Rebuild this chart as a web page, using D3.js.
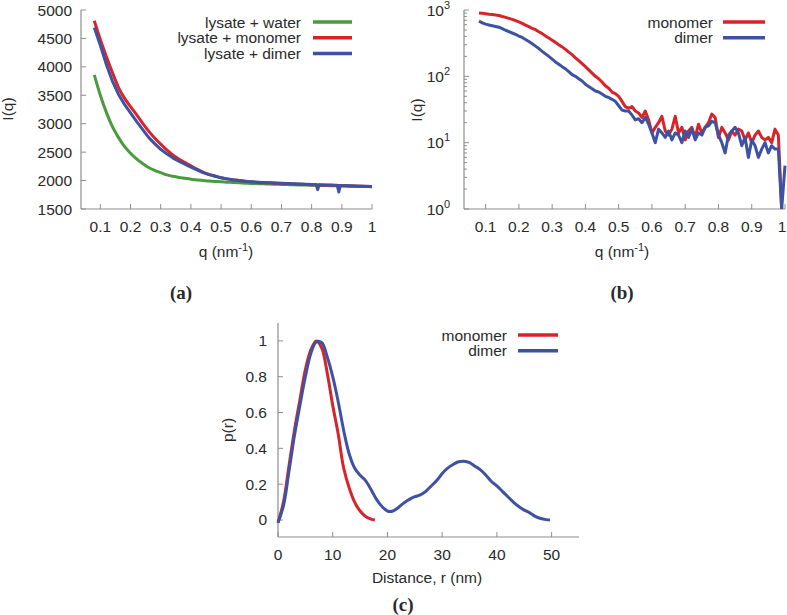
<!DOCTYPE html>
<html><head><meta charset="utf-8">
<script src="https://cdn.jsdelivr.net/npm/d3@7"></script>
<style>
body{margin:0;background:#fff;}
svg text{font-family:"Liberation Sans",Arial,Helvetica,sans-serif;fill:#2a2a2a;}
</style>
</head><body>
<svg id="chart" width="787" height="615"></svg>
<script>
// ---------- Panel (a) data ----------
const qA = [0.08,0.10,0.12,0.14,0.16,0.18,0.20,0.22,0.24,0.26,0.28,0.30,0.32,0.34,0.36,0.38,0.40,0.42,0.44,0.46,0.48,0.50,0.52,0.54,0.56,0.58,0.60,0.62,0.64,0.66,0.68,0.70,0.72,0.74,0.76,0.78,0.80,0.815,0.82,0.825,0.84,0.86,0.88,0.885,0.89,0.895,0.90,0.92,0.94,0.96,0.98,1.00];
const waterA = [3860,3500,3200,2950,2760,2600,2480,2380,2300,2230,2180,2140,2100,2075,2055,2040,2025,2012,2000,1992,1985,1978,1972,1966,1960,1955,1950,1946,1942,1938,1935,1932,1929,1926,1923,1920,1918,1916,1915,1915,1913,1911,1909,1908,1908,1907,1906,1903,1900,1898,1895,1893];
const monomerA = [4810,4480,4180,3900,3640,3450,3300,3160,3010,2870,2750,2640,2540,2450,2380,2320,2260,2200,2150,2110,2080,2050,2030,2015,2000,1990,1978,1970,1962,1963,1952,1948,1944,1940,1936,1932,1928,1925,1924,1923,1920,1917,1913,1912,1912,1911,1910,1906,1903,1900,1897,1893];
const dimerA = [4690,4380,4040,3750,3520,3340,3190,3040,2900,2760,2650,2550,2470,2400,2340,2290,2235,2190,2140,2105,2075,2050,2030,2012,2000,1990,1980,1972,1966,1962,1958,1952,1948,1944,1940,1936,1932,1928,1840,1926,1924,1921,1918,1916,1800,1914,1912,1908,1905,1902,1899,1895];
const yTicksA = [1500,2000,2500,3000,3500,4000,4500,5000];
const xTicksQ = [0.1,0.2,0.3,0.4,0.5,0.6,0.7,0.8,0.9,1];
const legendA = ["lysate + water","lysate + monomer","lysate + dimer"];

// ---------- Panel (b) data ----------
const qB = [0.08,0.09,0.10,0.11,0.12,0.13,0.14,0.15,0.16,0.17,0.18,0.19,0.20,0.21,0.22,0.23,0.24,0.25,0.26,0.27,0.28,0.29,0.30,0.31,0.32,0.33,0.34,0.35,0.36,0.37,0.38,0.39,0.40,0.41,0.42,0.43,0.44,0.45,0.46,0.47,0.48,0.49,0.50,0.51,0.52,0.53,0.54,0.55,0.56,0.57,0.58,0.59,0.60,0.61,0.62,0.63,0.64,0.65,0.66,0.67,0.68,0.69,0.70,0.71,0.72,0.73,0.74,0.75,0.76,0.77,0.78,0.79,0.80,0.81,0.82,0.83,0.84,0.85,0.86,0.87,0.88,0.89,0.90,0.91,0.92,0.93,0.94,0.95,0.96,0.97,0.98,0.99,1.00];
const monomerB = [900,890,878,862,852,840,825,798,775,748,722,692,662,630,592,562,530,505,470,440,405,378,350,325,300,278,255,232,212,190,172,155,140,125,112,100,92,82,72,66,58,55,50,42,35,33,35,30,28,24,30,22,14,17,20,25,15,13,16,25,14,17,11,15,17,12,19,14,17,20,27,24,12,17,14,11,15,13,16,15,11,14,10,13,15,12,11,12,10,16,13,1,null];
const dimerB = [680,640,612,595,580,565,550,522,495,472,450,430,405,385,360,335,310,285,262,238,218,200,182,165,152,140,130,118,106,100,92,85,76,70,65,60,58,54,50,48,45,42,36,31,30,30,26,22,23,20,24,19,14,10,16,14,12,15,11,14,13,10,15,12,16,11,14,13,17,18,21,20,13,10,7,13,15,17,14,9,12,6,11,9,6,8,10,7,9,8,8,1,4.5];
const yTicksB = [1,10,100,1000];
const legendB = ["monomer","dimer"];

// ---------- Panel (c) data ----------
const rMono = [0,1,2,3,4,5,6,7,8,9,10,11,12,13,14,15,16,17,17.7];
const pMono = [-0.015,0.10,0.30,0.50,0.67,0.84,0.95,1.00,0.96,0.82,0.64,0.48,0.29,0.18,0.10,0.05,0.02,0.005,0.0];
const rDimer = [0,1,2,3,4,5,6,7,8,9,10,11,12,13,14,15,16,17,18,19,20,21,22,23,24,25,26,27,28,29,30,31,32,33,34,35,36,37,38,39,40,41,42,43,44,45,46,47,48,49,49.7];
const pDimer = [-0.015,0.08,0.27,0.47,0.64,0.80,0.93,0.995,0.99,0.91,0.80,0.66,0.50,0.37,0.29,0.25,0.22,0.17,0.115,0.075,0.05,0.05,0.07,0.095,0.115,0.13,0.14,0.16,0.19,0.22,0.26,0.29,0.31,0.325,0.328,0.32,0.30,0.28,0.25,0.215,0.19,0.16,0.13,0.10,0.075,0.055,0.04,0.02,0.008,0.002,0.0];
const yTicksC = [0,0.2,0.4,0.6,0.8,1];
const xTicksC = [0,10,20,30,40,50];
const legendC = ["monomer","dimer"];

const COL = {green:"#4a9a3e", red:"#d9232b", blue:"#3d52a3"};
const AXIS = "#8e8e8e";
const FS = 15.5;

const svg = d3.select("#chart");

function axes(g, x, y, xTicks, yTicks, yFmt, xFmt, opts) {
  const [x0, x1] = x.range(), [y0, y1] = y.range();
  g.append("line").attr("x1", x0).attr("x2", x0).attr("y1", y0).attr("y2", y1)
    .attr("stroke", AXIS).attr("stroke-width", 1.2);
  g.append("line").attr("x1", x0).attr("x2", x1).attr("y1", y0).attr("y2", y0)
    .attr("stroke", AXIS).attr("stroke-width", 1.2);
  xTicks.forEach(t => {
    const px = x(t);
    g.append("line").attr("x1", px).attr("x2", px).attr("y1", y0).attr("y2", y0 - 5)
      .attr("stroke", AXIS).attr("stroke-width", 1);
    g.append("text").attr("x", Math.min(px, 782)).attr("y", y0 + opts.xLabOff).attr("text-anchor", "middle")
      .attr("font-size", FS).text(xFmt(t));
  });
  yTicks.forEach(t => {
    const py = y(t);
    g.append("line").attr("x1", x0).attr("x2", x0 + 5).attr("y1", py).attr("y2", py)
      .attr("stroke", AXIS).attr("stroke-width", 1);
    yFmt(g, x0 - opts.yLabOff, py, t);
  });
}

function plainY(fmt) {
  return (g, xx, yy, t) => g.append("text").attr("x", xx).attr("y", yy + 5.5)
    .attr("text-anchor", "end").attr("font-size", FS).text(fmt(t));
}

function qTitle(g, cx, yy) {
  const t = g.append("text").attr("x", cx).attr("y", yy).attr("text-anchor", "middle").attr("font-size", FS);
  t.append("tspan").text("q (nm");
  t.append("tspan").attr("dy", -6).attr("font-size", 11).text("-1");
  t.append("tspan").attr("dy", 6).text(")");
}

function yTitle(g, cx, cy, txt) {
  g.append("text").attr("transform", `translate(${cx},${cy}) rotate(-90)`)
    .attr("text-anchor", "middle").attr("font-size", FS).text(txt);
}

function panelLabel(txt, cx, yy) {
  svg.append("text").attr("x", cx).attr("y", yy).attr("text-anchor", "middle")
    .style("font-family", '"Liberation Serif","Times New Roman",serif')
    .attr("font-weight", "bold").attr("font-size", 19).text(txt);
}

function legend(g, names, colors, xr, x1, x2, y0, dy) {
  names.forEach((n, i) => {
    const yy = y0 + i * dy;
    g.append("text").attr("x", xr).attr("y", yy + 5.5).attr("text-anchor", "end")
      .attr("font-size", FS).text(n);
    g.append("line").attr("x1", x1).attr("x2", x2).attr("y1", yy).attr("y2", yy)
      .attr("stroke", colors[i]).attr("stroke-width", 3.5);
  });
}

function drawLine(g, xs, ys, x, y, color, curve, clipId) {
  const pts = xs.map((v, i) => [v, ys[i]]);
  const line = d3.line().defined(d => d[1] !== null).x(d => x(d[0])).y(d => y(d[1]));
  if (curve) line.curve(curve);
  g.append("path").datum(pts).attr("d", line).attr("fill", "none")
    .attr("stroke", color).attr("stroke-width", 3).attr("stroke-linejoin", "round")
    .attr("clip-path", clipId ? `url(#${clipId})` : null);
}

const defs = svg.append("defs");
function clip(id, x, y) {
  const [x0, x1] = x.range(), [y0, y1] = y.range();
  defs.append("clipPath").attr("id", id).append("rect")
    .attr("x", x0).attr("y", y1 - 3).attr("width", x1 - x0 + 3).attr("height", y0 - y1 + 3);
}

// ---------- Panel (a) ----------
{
  const g = svg.append("g");
  const x = d3.scaleLinear().domain([0.036, 1]).range([81, 372]);
  const y = d3.scaleLinear().domain([1500, 5000]).range([209, 10]);
  clip("clipA", x, y);
  axes(g, x, y, xTicksQ, yTicksA, plainY(d => d), d => d3.format("")(d), {xLabOff: 23, yLabOff: 9});
  drawLine(g, qA, waterA, x, y, COL.green, d3.curveMonotoneX, "clipA");
  drawLine(g, qA, monomerA, x, y, COL.red, d3.curveMonotoneX, "clipA");
  drawLine(g, qA, dimerA, x, y, COL.blue, d3.curveLinear, "clipA");
  yTitle(g, 13, 109, "I(q)");
  qTitle(g, 226, 257);
  legend(g, legendA, [COL.green, COL.red, COL.blue], 301, 313, 352, 22, 15.7);
  panelLabel("(a)", 181, 299);
}

// ---------- Panel (b) ----------
{
  const g = svg.append("g");
  const x = d3.scaleLinear().domain([0.035, 1]).range([464, 785]);
  const y = d3.scaleLog().domain([1, 1000]).range([209, 10]);
  clip("clipB", x, y);
  [1, 10, 100].forEach(dec => {
    for (let k = 2; k <= 9; k++) {
      const py = y(dec * k);
      g.append("line").attr("x1", 464).attr("x2", 467).attr("y1", py).attr("y2", py)
        .attr("stroke", AXIS).attr("stroke-width", 1);
    }
  });
  const yFmtB = (gg, xx, yy, t) => {
    const tx = gg.append("text").attr("x", xx).attr("y", yy + 5.5).attr("text-anchor", "end").attr("font-size", FS);
    tx.append("tspan").text("10");
    tx.append("tspan").attr("dy", -7).attr("font-size", 11).text(String(Math.round(Math.log10(t))));
  };
  axes(g, x, y, xTicksQ, yTicksB, yFmtB, d => d3.format("")(d), {xLabOff: 23, yLabOff: 14});
  drawLine(g, qB, monomerB, x, y, COL.red, d3.curveLinear, "clipB");
  drawLine(g, qB, dimerB, x, y, COL.blue, d3.curveLinear, "clipB");
  yTitle(g, 422, 110, "I(q)");
  qTitle(g, 622, 257);
  legend(g, legendB, [COL.red, COL.blue], 713, 723, 765, 22, 15.7);
  panelLabel("(b)", 622, 299);
}

// ---------- Panel (c) ----------
{
  const g = svg.append("g");
  const x = d3.scaleLinear().domain([0, 55]).range([278, 579]);
  const y = d3.scaleLinear().domain([-0.095, 1.1]).range([537, 323]);
  axes(g, x, y, xTicksC, yTicksC, plainY(d => d3.format("")(d)), d => d, {xLabOff: 23, yLabOff: 11});
  drawLine(g, rMono, pMono, x, y, COL.red, d3.curveCatmullRom, null);
  drawLine(g, rDimer, pDimer, x, y, COL.blue, d3.curveCatmullRom, null);
  yTitle(g, 233, 430, "p(r)");
  g.append("text").attr("x", 427).attr("y", 583).attr("text-anchor", "middle")
    .attr("font-size", FS).text("Distance, r (nm)");
  legend(g, legendC, [COL.red, COL.blue], 507, 518, 558, 335, 15.7);
  panelLabel("(c)", 403, 611);
}
</script>
</body></html>
